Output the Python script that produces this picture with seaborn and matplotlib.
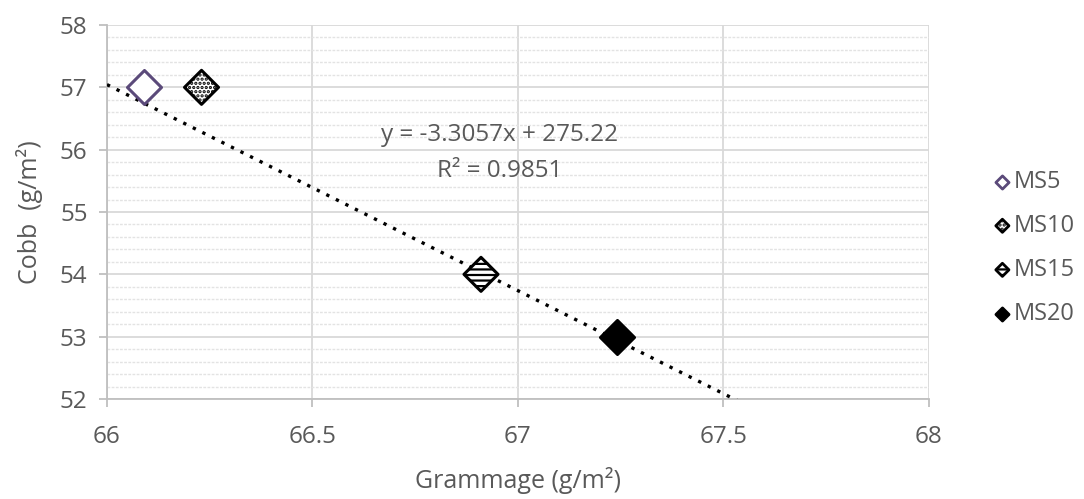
import matplotlib
matplotlib.use("Agg")
import matplotlib.pyplot as plt
import seaborn as sns
import numpy as np
import pandas as pd
from matplotlib.ticker import MultipleLocator

series = ["MS5", "MS10", "MS15", "MS20"]
grammage = [66.09, 66.23, 66.91, 67.24]
cobb = [57.0, 57.0, 54.0, 53.0]
slope = -3.3057
intercept = 275.22
r2 = 0.9851

sns.set_theme(style="white")
plt.rcParams['font.family'] = ['Open Sans', 'DejaVu Sans']
plt.rcParams['hatch.linewidth'] = 1.6
txt = "#595959"

fig = plt.figure(figsize=(10.84, 4.99), dpi=100)
ax = fig.add_axes([0.0987, 0.2004, 0.7583, 0.7495])

df = pd.DataFrame({"series": series, "x": grammage, "y": cobb})

styles = {
    "MS5": dict(facecolor="white", edgecolor="#5b4a7a", hatch=None),
    "MS10": dict(facecolor="white", edgecolor="black", hatch="...."),
    "MS15": dict(facecolor="white", edgecolor="black", hatch="---"),
    "MS20": dict(facecolor="black", edgecolor="black", hatch=None),
}

# trendline
tx = np.array([66.0, 68.0])
ax.plot(tx, slope * tx + intercept, linestyle=(0, (1, 2.2)), color="black", lw=2.4, zorder=3)

handles = []
for s in series:
    sub = df[df.series == s]
    st = styles[s]
    sns.scatterplot(data=sub, x="x", y="y", ax=ax, marker="D", s=300,
                    facecolor=st["facecolor"], edgecolor=st["edgecolor"],
                    linewidth=2.2, zorder=4, legend=False)
    coll = ax.collections[-1]
    if st["hatch"]:
        coll.set_hatch(st["hatch"])
    h = ax.scatter([], [], marker="D", s=45, facecolor=st["facecolor"],
                   edgecolor=st["edgecolor"], linewidth=2.0, hatch=st["hatch"])
    handles.append(h)

ax.set_xlim(66, 68)
ax.set_ylim(52, 58)
ax.yaxis.set_major_locator(MultipleLocator(1))
ax.yaxis.set_minor_locator(MultipleLocator(0.2))
ax.set_xticks([66, 66.5, 67, 67.5, 68])
ax.set_xticklabels(["66", "66.5", "67", "67.5", "68"])

ax.grid(which="major", axis="both", color="#d9d9d9", lw=1.3)
ax.grid(which="minor", axis="y", color="#e3e3e3", lw=1.0, linestyle=(0, (2, 1)))
ax.set_axisbelow(True)

for sp in ["top", "right"]:
    ax.spines[sp].set_visible(False)
for sp in ["left", "bottom"]:
    ax.spines[sp].set_color("#bfbfbf")
    ax.spines[sp].set_linewidth(1.3)

ax.tick_params(axis="both", which="major", colors=txt, labelsize=17.5,
               length=6, width=1.3, direction="out", bottom=True, left=True)
ax.tick_params(axis="both", which="major", color="#bfbfbf")
ax.tick_params(axis="both", which="minor", length=0)
ax.tick_params(axis="x", pad=13)
ax.tick_params(axis="y", pad=8)
ax.set_xlabel("Grammage (g/m²)", fontsize=18, color=txt, labelpad=13)
ax.set_ylabel("Cobb  (g/m²)", fontsize=18, color=txt, labelpad=12)

ax.text(66.956, 56.235, f"y = {slope}x + {intercept}", ha="center", va="center", fontsize=17.5, color=txt)
ax.text(66.956, 55.66, f"R² = {r2}", ha="center", va="center", fontsize=17.5, color=txt)

leg = fig.legend(handles, series, loc="center left", bbox_to_anchor=(0.916, 0.503),
                 frameon=False, fontsize=17, labelspacing=0.85, handletextpad=0.1,
                 handlelength=0.8, borderpad=0, borderaxespad=0, labelcolor=txt)

fig.savefig("out.png", dpi=100)
